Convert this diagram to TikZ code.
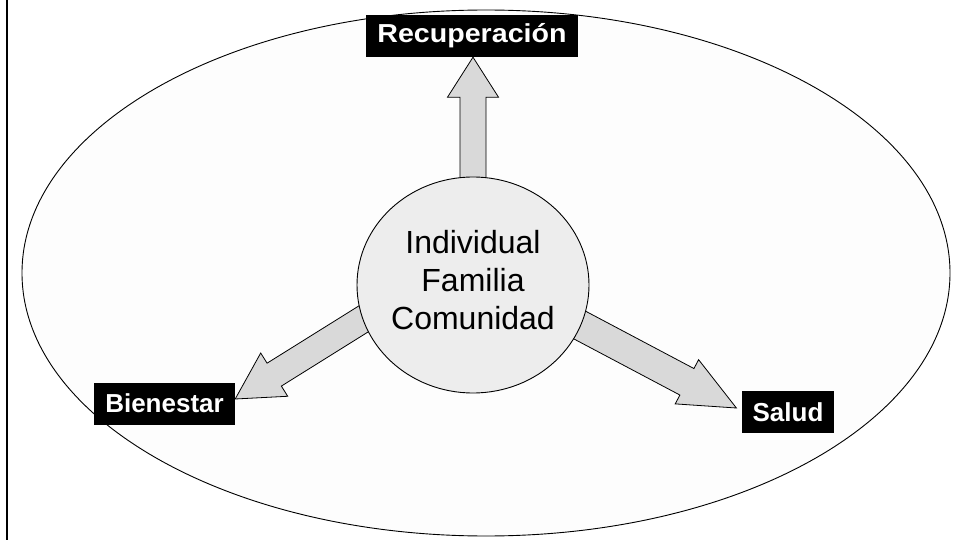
\documentclass[tikz,border=0pt]{standalone}
\usepackage{fontspec}
\setmainfont{Liberation Sans}
\usetikzlibrary{calc,shapes.geometric}
\definecolor{ellfill}{HTML}{FDFDFD}
\definecolor{circfill}{HTML}{EDEDED}
\definecolor{arrfill}{HTML}{D9D9D9}
\tikzset{
  lbl/.style={fill=black,text=white,font=\bfseries\fontsize{26}{30}\selectfont,
    inner xsep=11pt,inner ysep=0pt,minimum height=42pt},
  fatarrow/.style={fill=arrfill,draw=black,line width=0.8pt,line join=miter},
  outerell/.style={ellipse,draw=black,fill=ellfill,line width=0.9pt,inner sep=0pt,
    minimum width=928pt,minimum height=526pt},
  hub/.style={ellipse,draw=black,fill=circfill,line width=0.9pt,inner sep=0pt,
    minimum width=232pt,minimum height=216pt},
  hubtext/.style={align=center,font=\fontsize{32}{38}\selectfont},
  sideline/.style={line width=2.5pt}
}
% #1 start, #2 tip, #3 head length, #4 shaft half width, #5 head half width
\newcommand{\fatarr}[5]{%
  \coordinate (hb) at ($(#2)!#3!(#1)$);
  \draw[fatarrow] ($(#1)!#4!90:(#2)$) -- ($(hb)!#4!90:(#2)$) -- ($(hb)!#5!90:(#2)$)
    -- (#2) -- ($(hb)!#5!-90:(#2)$) -- ($(hb)!#4!-90:(#2)$) -- ($(#1)!#4!-90:(#2)$) -- cycle;
}
\begin{document}
\begin{tikzpicture}[x=1pt,y=-1pt]
  \useasboundingbox[fill=white] (0,0) rectangle (953,540);
  \coordinate (lt) at (7,0);
  \coordinate (lb) at (7,540);
  \draw[sideline] (lt) -- (lb);
  \node[outerell] (ell) at (486,273) {};
  \node[lbl,minimum width=196pt] (rec) at (472,36) {\scalebox{1.1}[1]{Recuperación}};
  \node[lbl,minimum width=141pt] (bien) at (164.5,403.5) {Bienestar};
  \node[lbl,minimum width=92pt] (sal) at (788,412) {Salud};
  \coordinate (cc) at (473,285);
  \coordinate (ut) at (cc |- rec.south);
  \coordinate (bs) at (405,293);
  \coordinate (bt) at ([yshift=4.5pt]bien.east);
  \coordinate (ss) at (560,314.6);
  \coordinate (st) at ([xshift=-5pt,yshift=4pt]sal.west);
  \fatarr{cc}{ut}{40pt}{13pt}{25.5pt}
  \fatarr{bs}{bt}{46pt}{13.5pt}{25.5pt}
  \fatarr{ss}{st}{56pt}{15pt}{25pt}
  \node[hub] (c) at (cc) {};
  \node[hubtext] (ctext) at ([yshift=5pt]c.center) {Individual\\Familia\\Comunidad};
\end{tikzpicture}
\end{document}
